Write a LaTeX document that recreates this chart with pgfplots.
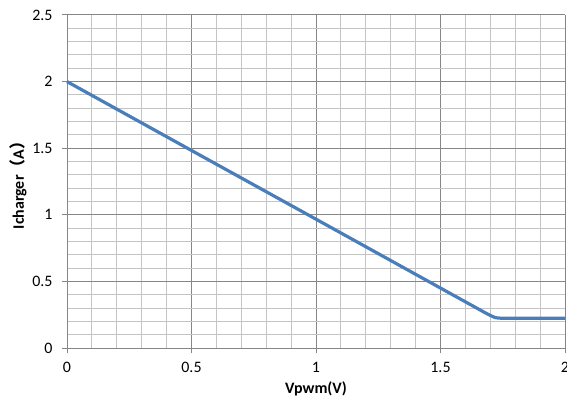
\documentclass[border=0pt]{standalone}
\usepackage{pgfplots}
\pgfplotsset{compat=1.18}
\usepackage{fontspec}
\setmainfont{Carlito}
\newfontfamily\cjk{Noto Sans CJK SC}
\definecolor{excelblue}{HTML}{4A7EBB}
\definecolor{majgrid}{HTML}{868686}
\definecolor{mingrid}{HTML}{C4C4C4}
\begin{document}
\begin{tikzpicture}
\path[use as bounding box] (0,0) rectangle (567bp,407bp);
\begin{axis}[
  at={(67bp,59bp)}, anchor=south west,
  scale only axis, width=498bp, height=333bp,
  xmin=0, xmax=2, ymin=0, ymax=2.5,
  xtick={0,0.5,1,1.5,2}, ytick={0,0.5,1,1.5,2,2.5},
  xticklabels={0,0.5,1,1.5,2}, yticklabels={0,0.5,1,1.5,2,2.5},
  minor x tick num=4, minor y tick num=4,
  grid=both,
  major grid style={majgrid, line width=1bp},
  minor grid style={mingrid, line width=1bp},
  axis line style={majgrid, line width=1bp},
  axis x line*=bottom, axis y line*=left,
  tick style={majgrid, line width=1bp},
  major tick length=5bp, minor tick length=0pt,
  tick align=outside,
  ticklabel style={font=\fontsize{16}{18}\selectfont, text=black},
  xticklabel style={yshift=-6bp},
  yticklabel style={xshift=-6bp},
  xlabel={\textbf{Vpwm(V)}},
  ylabel={\textbf{Icharger{\cjk（}A{\cjk）}}},
  label style={font=\fontsize{16}{18}\selectfont},
  xlabel style={yshift=-2bp},
  ylabel style={yshift=-1bp},
  clip=false,
]
\addplot[excelblue, line width=3.2bp, smooth, tension=0.25] coordinates {
(0,2) (0.5,1.483) (1,0.967) (1.5,0.45) (1.65,0.295) (1.69,0.254) (1.72,0.228) (1.75,0.223) (1.8,0.224) (1.9,0.224) (2,0.224)
};
\end{axis}
\end{tikzpicture}
\end{document}
